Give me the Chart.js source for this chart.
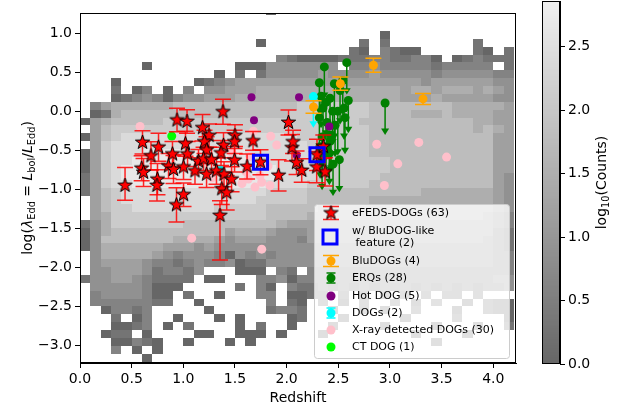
<!DOCTYPE html>
<html>
<head>
<meta charset="utf-8">
<script src="https://cdn.jsdelivr.net/npm/chart.js@4.4.0/dist/chart.umd.min.js"></script>
<style>
html, body { margin: 0; padding: 0; background: #fff; }
#wrap { position: relative; width: 627px; height: 409px; }
#wrap canvas { position: absolute; left: 0; top: 0; }
</style>
</head>
<body>
<div id="wrap">
  <canvas id="main" width="627" height="409"></canvas>
  <canvas id="cbar" width="627" height="409"></canvas>
</div>
<script>
// ---- comparison sample: 2D histogram, one string per row (top row first) ----
// each char = log10(counts) in steps of 0.3, '.' = empty bin; spaces only group columns by ten
const histBinW = 0.1;
const histYStart = -3.207;
const histBinH = 0.1009;
const histLevelStep = 0.3;
const histRows = [
  ".......... ........0. .......... .......... ..",
  ".......... .......... .......... .......... ..",
  ".......... .......... .......... .......... ..",
  ".......... .......... .........0 .......... ..",
  ".......... .......0.. .......1.1 ........1. ..",
  ".......... .......... ......10.2 100.....10 .1",
  ".......... .........2 1000011122 11220.0121 11",
  "......0... .....00033 33333.2232 2222122222 .1",
  ".......... ...0.1.133 3334333343 3333233333 22",
  "...0...... .012344444 4444444444 4443444444 33",
  "...1.02.0. 2.33444555 5555555555 5455455545 43",
  "...0123202 3344455555 5555555555 5444544444 33",
  ".245555556 6666666666 6777777766 6666665555 54",
  ".015666666 6666666666 7777777766 6655565555 44",
  "0456666677 7777777777 7777777666 6666666655 44",
  ".467777777 7777777777 7777777766 6666666656 54",
  "0467888888 8888888888 8777777766 6666666666 44",
  ".478888888 8888888888 8877777766 6666666666 44",
  "0478889999 9999998888 8887777766 6666666666 44",
  "0478899999 9999999888 8887777777 6666666666 44",
  "0478999999 9999999998 8887777777 6666666666 44",
  "1478999999 9999999998 8887777776 6666666666 43",
  "1478899999 9999999988 8877777766 6666666666 43",
  "1467888888 8888888877 7766666666 6665555555 43",
  ".467888888 8888888777 7766666655 5555555555 43",
  ".467788888 8887777766 6665555555 5555555555 43",
  ".457777777 7777777766 6655555555 5555555554 32",
  "1357777777 6666666665 4444444444 4444444444 32",
  "0356666666 6666455543 3344444444 4444444444 21",
  "0366666665 5554344433 3244444444 4444444443 21",
  "0355555544 4343333333 3333333333 3333333333 21",
  ".355555432 3332032323 3333333333 3333333333 22",
  ".344443221 2322301133 3333333333 3333333333 22",
  ".334443122 13...000.2 1.22222222 2222222222 22",
  "1334432111 1.00...223 0222222222 2222222222 33",
  ".333332000 .....1.20. 2112121212 1212121212 23",
  ".23333200. 1..0...22. 0011.1.1.1 .1.1.11.1. ..",
  ".22222211. .0......2. 10.1.0.1.. 1.0.1..0.1 00",
  "..02212... ..0.....12 21..0..1.0 ..1...0..1 00",
  "...1.02..0 ...0.0.... 01...0.... .0....1... .0",
  "...0012.0. 1....0.1.. 0...0....0 ....0...0. .1",
  "..011.0... .00..000.0 ...0...... ..0....0.. ..",
  "...00210.. 0...0.0... .......... ....0..... ..",
  "...2.0.0.. .......... .......... .......... ..",
  "......0... .......... .......... .......... .."
].map(r => r.replace(/ /g, ''));

// ---- eFEDS-DOGs (stars) ----
const efedsZ = [1.384, 0.939, 1.036, 1.186, 1.249, 1.500, 2.018, 0.605, 1.675, 1.496, 1.205, 1.021, 0.760, 1.389,
  2.052, 2.062, 0.687, 0.895, 1.041, 1.225, 1.365, 1.496, 1.747, 1.617, 1.922, 0.597, 0.615, 0.857, 1.002, 1.147,
  1.196, 1.273, 1.321, 1.113, 0.905, 1.225, 1.394, 1.467, 0.750, 0.436, 2.096, 0.745, 1.002, 0.934, 1.355, 1.372,
  1.420, 2.146, 2.294, 2.372, 2.291, 2.355];
const efedsLam = [-0.006, -0.112, -0.130, -0.211, -0.311, -0.311, -0.143, -0.398, -0.379, -0.391, -0.391, -0.416,
  -0.460, -0.435, -0.466, -0.391, -0.571, -0.547, -0.547, -0.497, -0.534, -0.627, -0.652, -0.708, -0.820, -0.730,
  -0.783, -0.702, -0.714, -0.640, -0.609, -0.621, -0.764, -0.764, -0.745, -0.807, -0.807, -0.870, -0.870, -0.950,
  -0.658, -0.950, -1.068, -1.199, -1.335, -0.994, -1.043, -0.758, -0.557, -0.776, -0.714, -0.453];
const efedsErrLo = [0.16, 0.15, 0.15, 0.17, 0.15, 0.14, 0.16, 0.15, 0.12, 0.15, 0.15, 0.16, 0.18, 0.16, 0.17, 0.15,
  0.18, 0.16, 0.16, 0.17, 0.16, 0.15, 0.16, 0.16, 0.20, 0.16, 0.18, 0.16, 0.16, 0.15, 0.15, 0.16, 0.17, 0.17, 0.18,
  0.17, 0.16, 0.16, 0.20, 0.19, 0.15, 0.20, 0.15, 0.22, 0.57, 0.20, 0.22, 0.15, 0.20, 0.18, 0.20, 0.15];
const efedsErrHi = [0.16, 0.15, 0.15, 0.17, 0.15, 0.14, 0.16, 0.15, 0.12, 0.15, 0.15, 0.16, 0.18, 0.16, 0.17, 0.15,
  0.18, 0.16, 0.16, 0.17, 0.16, 0.15, 0.16, 0.16, 0.20, 0.16, 0.18, 0.16, 0.16, 0.15, 0.15, 0.16, 0.17, 0.17, 0.18,
  0.17, 0.16, 0.16, 0.20, 0.23, 0.15, 0.20, 0.15, 0.22, 0.19, 0.20, 0.22, 0.15, 0.20, 0.18, 0.20, 0.15];

// eFEDS-DOGs with a BluDOG-like feature
const bluLikeZ = [1.747, 2.294];
const bluLikeLam = [-0.652, -0.557];

// BluDOGs
const bluZ = [2.84, 2.52, 2.26, 3.32];
const bluLam = [0.59, 0.354, 0.056, 0.159];
const bluErr = [0.09, 0.085, 0.08, 0.07];

// ERQs (upper limits, arrow length in dex)
const erqZ = [2.365, 2.582, 2.317, 2.462, 2.543, 2.597, 2.953, 2.381, 2.317, 2.446, 2.495, 2.413, 2.510, 2.333,
  2.420, 2.517, 2.352, 2.556, 2.391, 2.469, 2.343, 2.430, 2.381, 2.449, 2.343, 2.420, 2.323, 2.565];
const erqLam = [0.569, 0.624, 0.366, 0.354, 0.395, 0.139, 0.106, 0.114, -0.081, 0.002, 0.002, -0.537, -0.619, 0.193,
  0.168, 0.267, 0.043, 0.043, -0.143, -0.180, -0.329, -0.304, -0.453, -0.677, -0.602, -0.379, -0.453, -0.081];
const erqLim = [0.34, 0.34, 0.34, 0.65, 0.37, 0.35, 0.34, 0.37, 0.34, 0.37, 0.5, 0.34, 0.35, 0.34, 0.34, 0.37, 0.34,
  0.34, 0.34, 0.34, 0.34, 0.40, 0.34, 0.34, 0.34, 0.34, 0.34, 0.40];

// Hot DOGs
const hotZ = [1.660, 1.684, 2.120, 2.413, 2.098];
const hotLam = [0.180, -0.114, 0.180, -0.193, -0.563];

// DOGs
const dogZ = [2.259, 1.355];
const dogLam = [0.189, -0.743];
const dogLim = [0.33, 0];

// X-ray detected DOGs
const xrayZ = [0.581, 1.678, 1.846, 1.904, 2.872, 3.279, 3.548, 3.076, 2.946, 1.081, 1.759, 1.629, 1.742, 1.759,
  1.694, 1.646, 1.820, 1.607, 1.568, 1.839, 1.471, 1.278];
const xrayLam = [-0.193, -0.255, -0.320, -0.432, -0.422, -0.398, -0.586, -0.673, -0.950, -1.625, -1.766, -0.867,
  -0.826, -0.909, -0.971, -0.578, -0.702, -0.776, -0.925, -0.950, -0.528, -0.851];

// CT DOG
const ctZ = [0.888];
const ctLam = [-0.317];

const FONT = 'DejaVu Sans';
const cbMax = 2.86;

function grayFor(v) {
  const g = Math.round(102 + 138 * Math.max(0, Math.min(v, cbMax)) / cbMax);
  return `rgb(${g},${g},${g})`;
}

function pts(xs, ys) {
  return xs.map((x, i) => ({ x, y: ys[i] }));
}

// filled star marker with black edge
function makeStar(R) {
  const c = document.createElement('canvas');
  c.width = c.height = Math.ceil(2 * R + 4);
  const g = c.getContext('2d');
  g.translate(c.width / 2, c.height / 2);
  g.beginPath();
  for (let i = 0; i < 10; i++) {
    const r = i % 2 ? R * 0.4 : R;
    const a = -Math.PI / 2 + i * Math.PI / 5;
    g.lineTo(r * Math.cos(a), r * Math.sin(a));
  }
  g.closePath();
  g.fillStyle = '#ff0000';
  g.fill();
  g.lineWidth = 1;
  g.strokeStyle = '#000';
  g.stroke();
  return c;
}
const starImg = makeStar(7.5);

function caretDown(ctx, x, y, w) {
  ctx.beginPath();
  ctx.moveTo(x - w, y);
  ctx.lineTo(x + w, y);
  ctx.lineTo(x, y + w * 1.6);
  ctx.closePath();
  ctx.fill();
}

const histogram = {
  id: 'histogram',
  beforeDatasetsDraw(chart) {
    const { ctx, chartArea: a, scales: { x, y } } = chart;
    ctx.save();
    ctx.beginPath();
    ctx.rect(a.left, a.top, a.right - a.left, a.bottom - a.top);
    ctx.clip();
    const n = histRows.length;
    histRows.forEach((row, r) => {
      const k = n - 1 - r;
      const y0 = histYStart + k * histBinH;
      const top = Math.round(y.getPixelForValue(y0 + histBinH));
      const bot = Math.round(y.getPixelForValue(y0));
      for (let c = 0; c < row.length; c++) {
        const ch = row[c];
        if (ch < '0' || ch > '9') continue;
        const l = Math.round(x.getPixelForValue(c * histBinW));
        const rr = Math.round(x.getPixelForValue((c + 1) * histBinW));
        ctx.fillStyle = grayFor(Number(ch) * histLevelStep);
        ctx.fillRect(l, top, rr - l, bot - top);
      }
    });
    ctx.restore();
  }
};

// vertical error bars / upper-limit arrows, drawn under each dataset's markers
const errorBars = {
  id: 'errorBars',
  beforeDatasetDraw(chart, args) {
    const ds = chart.data.datasets[args.index];
    if (!ds.errLo && !ds.uplim) return;
    const { ctx, chartArea: a, scales: { x, y } } = chart;
    ctx.save();
    ctx.beginPath();
    ctx.rect(a.left, a.top, a.right - a.left, a.bottom - a.top);
    ctx.clip();
    ctx.strokeStyle = ds.errColor;
    ctx.fillStyle = ds.errColor;
    ctx.lineWidth = ds.errWidth || 1.5;
    ds.data.forEach((p, i) => {
      const px = x.getPixelForValue(p.x);
      if (ds.uplim) {
        const len = ds.uplim[i];
        if (!len) return;
        const py = y.getPixelForValue(p.y);
        const pe = y.getPixelForValue(p.y - len);
        ctx.beginPath();
        ctx.moveTo(px, py);
        ctx.lineTo(px, pe);
        ctx.stroke();
        caretDown(ctx, px, pe - 1, 4);
        return;
      }
      const lo = y.getPixelForValue(p.y - ds.errLo[i]);
      const hi = y.getPixelForValue(p.y + ds.errHi[i]);
      const cap = ds.capHalf;
      ctx.beginPath();
      ctx.moveTo(px, lo); ctx.lineTo(px, hi);
      ctx.moveTo(px - cap, lo); ctx.lineTo(px + cap, lo);
      ctx.moveTo(px - cap, hi); ctx.lineTo(px + cap, hi);
      ctx.stroke();
    });
    ctx.restore();
  }
};

function richWidth(ctx, parts, size) {
  let w = 0;
  parts.forEach(p => {
    const s = p.sub ? size * 0.7 : size;
    ctx.font = `${p.it ? 'italic ' : ''}${s}px ${FONT}`;
    w += ctx.measureText(p.t).width;
  });
  return w;
}

function drawRich(ctx, parts, size, x, y) {
  let cx = x - richWidth(ctx, parts, size) / 2;
  ctx.textAlign = 'left';
  ctx.textBaseline = 'alphabetic';
  parts.forEach(p => {
    const s = p.sub ? size * 0.7 : size;
    ctx.font = `${p.it ? 'italic ' : ''}${s}px ${FONT}`;
    ctx.fillText(p.t, cx, y + (p.sub ? size * 0.22 : 0));
    cx += ctx.measureText(p.t).width;
  });
}

const yTitle = [
  { t: 'log(' }, { t: 'λ', it: true }, { t: 'Edd', sub: true }, { t: ' = ' },
  { t: 'L', it: true }, { t: 'bol', sub: true }, { t: '/' }, { t: 'L', it: true }, { t: 'Edd', sub: true }, { t: ')' }
];

function legendCircle(ctx, x, y, r, color) {
  ctx.fillStyle = color;
  ctx.beginPath();
  ctx.arc(x, y, r, 0, Math.PI * 2);
  ctx.fill();
}

function legendCaps(ctx, x, y, half, h, color, lw) {
  ctx.strokeStyle = color;
  ctx.lineWidth = lw;
  ctx.beginPath();
  ctx.moveTo(x, y - h); ctx.lineTo(x, y + h);
  ctx.moveTo(x - half, y - h); ctx.lineTo(x + half, y - h);
  ctx.moveTo(x - half, y + h); ctx.lineTo(x + half, y + h);
  ctx.stroke();
}

const decorations = {
  id: 'decorations',
  afterDraw(chart) {
    const { ctx, chartArea: a } = chart;
    ctx.save();
    // axes frame
    ctx.strokeStyle = '#000';
    ctx.lineWidth = 1;
    ctx.strokeRect(a.left + 0.5, a.top + 0.5, a.right - a.left - 1, a.bottom - a.top - 1);

    // axis titles
    ctx.fillStyle = '#000';
    ctx.font = `14px ${FONT}`;
    ctx.textAlign = 'center';
    ctx.textBaseline = 'alphabetic';
    ctx.fillText('Redshift', (a.left + a.right) / 2, 402);
    ctx.save();
    ctx.translate(32, (a.top + a.bottom) / 2);
    ctx.rotate(-Math.PI / 2);
    drawRich(ctx, yTitle, 14, 0, 0);
    ctx.restore();

    // legend
    const lx = 314, ly = 204, lw = 195, lh = 154;
    ctx.beginPath();
    ctx.roundRect(lx + 0.5, ly + 0.5, lw, lh, 3);
    ctx.fillStyle = 'rgba(255,255,255,0.8)';
    ctx.fill();
    ctx.strokeStyle = '#cccccc';
    ctx.lineWidth = 1;
    ctx.stroke();

    const mx = 331, tx = 352;
    legendCaps(ctx, mx, 213, 8, 6.5, 'rgba(255,0,0,0.85)', 1.5);
    ctx.drawImage(starImg, mx - starImg.width / 2, 213 - starImg.height / 2);
    ctx.strokeStyle = '#0000ff';
    ctx.lineWidth = 3;
    ctx.strokeRect(mx - 8, 237 - 7, 14, 14);
    legendCaps(ctx, mx, 261, 8, 5.5, '#ffa500', 1.5);
    legendCircle(ctx, mx, 261, 4.5, '#ffa500');
    legendCaps(ctx, mx, 278, 4.5, 5, '#008000', 1.5);
    legendCircle(ctx, mx, 278, 4.5, '#008000');
    legendCircle(ctx, mx, 296, 4.5, '#800080');
    legendCaps(ctx, mx, 313, 4.5, 5, '#00ffff', 1.5);
    legendCircle(ctx, mx, 313, 4.5, '#00ffff');
    legendCircle(ctx, mx, 330, 4.5, '#ffc0cb');
    legendCircle(ctx, mx, 347, 4.5, '#00ff00');

    ctx.fillStyle = '#000';
    ctx.font = `11px ${FONT}`;
    ctx.textAlign = 'left';
    ctx.textBaseline = 'middle';
    const labels = [
      ['eFEDS-DOGs (63)', 213], ['w/ BluDOG-like', 231], [' feature (2)', 243], ['BluDOGs (4)', 261],
      ['ERQs (28)', 278], ['Hot DOG (5)', 296], ['DOGs (2)', 313], ['X-ray detected DOGs (30)', 330], ['CT DOG (1)', 347]
    ];
    labels.forEach(([t, y]) => ctx.fillText(t, tx, y));
    ctx.restore();
  }
};

const tickFmt = v => (v < 0 ? '\u2212' : '') + Math.abs(v).toFixed(1);

const axisCommon = {
  type: 'linear',
  ticks: { stepSize: 0.5, includeBounds: false, color: '#000', font: { family: FONT, size: 14 }, padding: 3, callback: tickFmt },
  grid: { drawOnChartArea: false, drawTicks: true, tickLength: 5, color: '#000', lineWidth: 1 },
  border: { display: true, color: '#000', width: 1 }
};

const datasets = [
  {
    label: 'w/ BluDOG-like feature', data: pts(bluLikeZ, bluLikeLam), order: 0,
    pointStyle: 'rect', pointRadius: 10, pointBorderWidth: 3, pointBorderColor: '#0000ff',
    pointBackgroundColor: 'rgba(0,0,0,0)'
  },
  {
    label: 'eFEDS-DOGs', data: pts(efedsZ, efedsLam), order: 1,
    pointStyle: starImg, pointRadius: 8,
    errLo: efedsErrLo, errHi: efedsErrHi, errColor: 'rgba(255,0,0,0.85)', errWidth: 1.5, capHalf: 8
  },
  {
    label: 'CT DOG', data: pts(ctZ, ctLam), order: 2,
    pointRadius: 4.5, pointBorderWidth: 0, pointBackgroundColor: '#00ff00'
  },
  {
    label: 'BluDOGs', data: pts(bluZ, bluLam), order: 3,
    pointRadius: 4.5, pointBorderWidth: 0, pointBackgroundColor: '#ffa500',
    errLo: bluErr, errHi: bluErr, errColor: '#ffa500', errWidth: 1.5, capHalf: 8
  },
  {
    label: 'DOGs', data: pts(dogZ, dogLam), order: 4,
    pointRadius: 4.5, pointBorderWidth: 0, pointBackgroundColor: '#00ffff',
    uplim: dogLim, errColor: '#00ffff', errWidth: 1.5
  },
  {
    label: 'Hot DOG', data: pts(hotZ, hotLam), order: 5,
    pointRadius: 4, pointBorderWidth: 0, pointBackgroundColor: '#800080'
  },
  {
    label: 'ERQs', data: pts(erqZ, erqLam), order: 6,
    pointRadius: 4.5, pointBorderWidth: 0, pointBackgroundColor: '#008000',
    uplim: erqLim, errColor: '#008000', errWidth: 1.5
  },
  {
    label: 'X-ray detected DOGs', data: pts(xrayZ, xrayLam), order: 7,
    pointRadius: 4.5, pointBorderWidth: 0, pointBackgroundColor: '#ffc0cb'
  }
];

new Chart(document.getElementById('main'), {
  type: 'scatter',
  data: { datasets },
  options: {
    responsive: false,
    animation: false,
    events: [],
    layout: { padding: { top: 2, right: 111, left: 0, bottom: 0 } },
    plugins: { legend: { display: false }, tooltip: { enabled: false } },
    scales: {
      x: {
        ...axisCommon, position: 'bottom', min: 0, max: 4.22,
        afterFit(s) { s.height = 46; s.paddingLeft = 0; s.paddingRight = 0; }
      },
      y: {
        ...axisCommon, position: 'left', min: -3.225, max: 1.26,
        afterFit(s) { s.width = 80; s.paddingTop = 0; s.paddingBottom = 0; }
      }
    }
  },
  plugins: [histogram, errorBars, decorations]
});

// ---- colorbar ----
const cbTicks = [0, 0.5, 1.0, 1.5, 2.0, 2.5];

const cbFill = {
  id: 'cbFill',
  beforeDraw(chart) {
    const { ctx, chartArea: a, scales: { y } } = chart;
    const steps = 200;
    for (let i = 0; i < steps; i++) {
      const v0 = cbMax * i / steps, v1 = cbMax * (i + 1) / steps;
      const p0 = y.getPixelForValue(v0), p1 = y.getPixelForValue(v1);
      ctx.fillStyle = grayFor((v0 + v1) / 2);
      ctx.fillRect(a.left, Math.floor(p1), a.right - a.left, Math.ceil(p0) - Math.floor(p1));
    }
  },
  afterDraw(chart) {
    const { ctx, chartArea: a } = chart;
    ctx.save();
    ctx.strokeStyle = '#000';
    ctx.lineWidth = 1;
    ctx.strokeRect(a.left + 0.5, a.top + 0.5, a.right - a.left - 1, a.bottom - a.top - 1);
    ctx.fillStyle = '#000';
    ctx.translate(606, (a.top + a.bottom) / 2);
    ctx.rotate(-Math.PI / 2);
    drawRich(ctx, [{ t: 'log' }, { t: '10', sub: true }, { t: '(Counts)' }], 14, 0, 0);
    ctx.restore();
  }
};

new Chart(document.getElementById('cbar'), {
  type: 'scatter',
  data: { datasets: [] },
  options: {
    responsive: false,
    animation: false,
    events: [],
    layout: { padding: { top: 1, left: 542, bottom: 45, right: 0 } },
    plugins: { legend: { display: false }, tooltip: { enabled: false } },
    scales: {
      x: { display: false, min: 0, max: 1 },
      y: {
        ...axisCommon, position: 'right', min: 0, max: cbMax,
        ticks: { ...axisCommon.ticks, callback: v => cbTicks.includes(v) ? v.toFixed(1) : '' },
        afterFit(s) { s.width = 67; s.paddingTop = 0; s.paddingBottom = 0; }
      }
    }
  },
  plugins: [cbFill]
});
</script>
</body>
</html>
